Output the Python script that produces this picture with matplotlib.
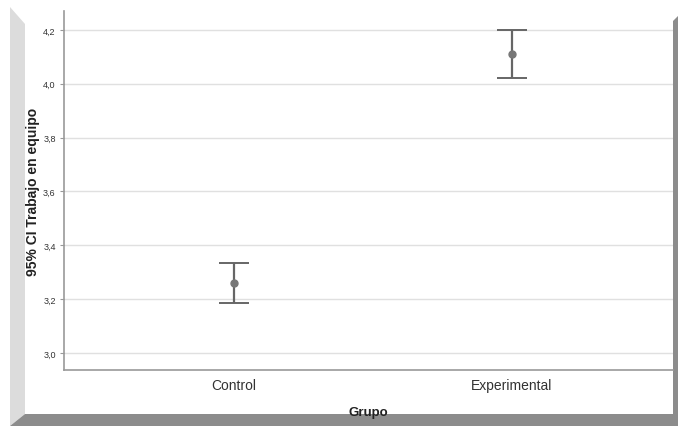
import numpy as np
import matplotlib.pyplot as plt
from matplotlib.patches import Polygon

groups = ['Control', 'Experimental']
means = [3.259, 4.110]
ci_low = [3.185, 4.022]
ci_high = [3.334, 4.200]
yticks = [3.0, 3.2, 3.4, 3.6, 3.8, 4.0, 4.2]
ytick_labels = ['3,0', '3,2', '3,4', '3,6', '3,8', '4,0', '4,2']

W, H = 678, 427
fig = plt.figure(figsize=(W / 100, H / 100), dpi=100)
plt.rcParams['font.family'] = ['Liberation Sans', 'DejaVu Sans']


def px(pts):
    # pixel coords (top-left origin) -> figure fraction
    return [(x / W, 1 - y / H) for x, y in pts]


# fake 3D frame like SPSS output
fig.patches.append(Polygon(px([(10, 8), (25, 25), (25, 415), (10, 427)]),
                           closed=True, transform=fig.transFigure,
                           facecolor='#dcdcdc', edgecolor='none', zorder=0))
fig.patches.append(Polygon(px([(25, 415), (678, 415), (678, 427), (10, 427)]),
                           closed=True, transform=fig.transFigure,
                           facecolor='#8c8c8c', edgecolor='none', zorder=0))
fig.patches.append(Polygon(px([(673, 22), (678, 17), (678, 415), (673, 415)]),
                           closed=True, transform=fig.transFigure,
                           facecolor='#8c8c8c', edgecolor='none', zorder=0))

ax = fig.add_axes([64 / W, 1 - 371 / H, (673 - 64) / W, (371 - 12) / H])
ax.set_facecolor('none')
ax.set_zorder(2)

x = np.arange(len(groups))
means = np.array(means)
err = [means - np.array(ci_low), np.array(ci_high) - means]
ax.errorbar(x, means, yerr=err, fmt='o', color='#777777', ms=5,
            ecolor='#666666', elinewidth=1.6, capsize=11, capthick=1.4, zorder=3)

ax.set_xlim(-0.6115, 1.579)
ax.set_ylim(2.937, 4.27)
ax.set_yticks(yticks)
ax.set_yticklabels(ytick_labels)
ax.set_xticks(x)
ax.set_xticklabels(groups)
ax.yaxis.grid(True, color='#e0e0e0', lw=1)
ax.set_axisbelow(True)

for s in ['top', 'right']:
    ax.spines[s].set_visible(False)
for s in ['left', 'bottom']:
    ax.spines[s].set_color('#999999')
    ax.spines[s].set_linewidth(1.2)

ax.tick_params(axis='y', length=3, color='#999999', labelsize=6.5,
               labelcolor='#333333', pad=3)
ax.tick_params(axis='x', length=0, labelsize=10, labelcolor='#333333', pad=6)

ax.set_ylabel('95% CI Trabajo en equipo', fontsize=10, fontweight='bold',
              color='#222222', labelpad=2)
ax.set_xlabel('Grupo', fontsize=9.5, fontweight='bold', color='#222222',
              labelpad=10)

fig.savefig('out.png', dpi=100)
